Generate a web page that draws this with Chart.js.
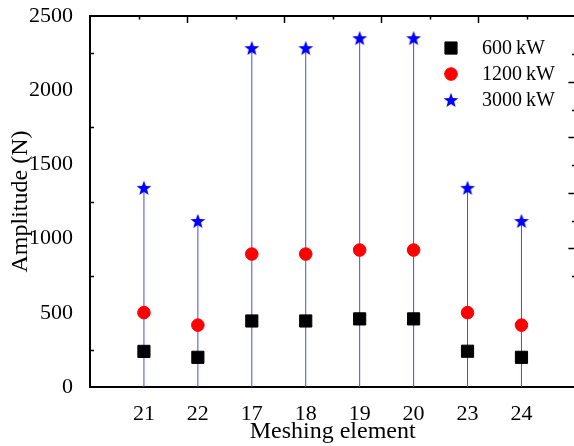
<!DOCTYPE html>
<html>
<head>
<meta charset="utf-8">
<script src="https://cdn.jsdelivr.net/npm/chart.js@4.4.1/dist/chart.umd.min.js"></script>
<style>
html,body{margin:0;padding:0;background:#fff;overflow:hidden;}
#wrap{width:590px;height:446px;}
</style>
</head>
<body>
<div id="wrap"><canvas id="c" width="585" height="446"></canvas></div>
<script>
// ---- data ----
const categories = ['21','22','17','18','19','20','23','24'];
const p600  = [240, 200, 445, 445, 459, 459, 241, 200];
const p1200 = [501, 417, 896, 896, 923, 923, 501, 417];
const p3000 = [1342, 1119, 2284, 2284, 2351, 2351, 1342, 1119];
const seriesLabels = ['600\u2009kW', '1200\u2009kW', '3000\u2009kW'];
const yTickStep = 500;
const yMax = 2500;

const FONT = "'Liberation Serif','Times New Roman',serif";

// filled five-point star marker
function makeStar(size, color){
  const c = document.createElement('canvas');
  c.width = size; c.height = size;
  const g = c.getContext('2d');
  const cx = size/2, cy = size/2 + 0.6, R = size/2 - 0.2, r = R*0.42;
  g.beginPath();
  for (let i = 0; i < 10; i++){
    const a = -Math.PI/2 + i*Math.PI/5;
    const rad = i % 2 ? r : R;
    g.lineTo(cx + rad*Math.cos(a), cy + rad*Math.sin(a));
  }
  g.closePath();
  g.fillStyle = color; g.fill();
  return c;
}
const star = makeStar(16, '#0000ff');

const pts = arr => arr.map((v,i)=>({x:i+1, y:v}));
const drops = p3000.flatMap((v,i)=>[{x:i+1,y:0},{x:i+1,y:v},{x:i+1,y:null}]);

// tick marks drawn inward on the frame
const frameTicks = {
  id:'frameTicks',
  afterDraw(chart){
    const ctx = chart.ctx, a = chart.chartArea, s = chart.scales;
    ctx.save();
    ctx.strokeStyle = '#000'; ctx.lineWidth = 1.5;
    const line = (x1,y1,x2,y2)=>{ctx.beginPath();ctx.moveTo(x1,y1);ctx.lineTo(x2,y2);ctx.stroke();};
    for (let v = yTickStep/2; v < yMax; v += yTickStep){
      const y = Math.round(s.y.getPixelForValue(v)) + 0.5;
      line(a.left, y, a.left + 4, y);
    }
    for (let v = 0.5; v < 5; v += 0.5){
      const x = Math.round(s.x2.getPixelForValue(v)) + 0.5;
      const major = Math.abs(v - Math.round(v)) < 1e-6;
      line(x, a.top, x, a.top + (major ? 7 : 3.5));
    }
    for (let v = 2; v <= 6; v += 0.5){
      const y = Math.round(s.y2.getPixelForValue(v)) + 0.5;
      const major = Math.abs(v - Math.round(v)) > 1e-6;
      line(a.right, y, a.right - (major ? 7 : 3.5), y);
    }
    ctx.restore();
  }
};

// legend inside the plot area
const boxLegend = {
  id:'boxLegend',
  afterDraw(chart){
    const ctx = chart.ctx, a = chart.chartArea;
    const mx = a.left + 361, tx = a.left + 392;
    const rows = [a.top + 32, a.top + 58, a.top + 84];
    ctx.save();
    [0,1,2].forEach(i=>{
      const ds = chart.data.datasets[i];
      if (ds.pointStyle === star){
        Chart.helpers.drawPoint(ctx, { pointStyle: star, radius: ds.pointRadius, rotation: 0, borderWidth: 0 }, mx, rows[i]);
      } else {
        ctx.fillStyle = ds.backgroundColor; ctx.strokeStyle = ds.borderColor;
        ctx.beginPath();
        if (ds.pointStyle === 'rect'){
          const h = Math.SQRT1_2*ds.pointRadius;
          ctx.rect(mx-h, rows[i]-h, 2*h, 2*h);
        } else {
          ctx.arc(mx, rows[i], ds.pointRadius, 0, Math.PI*2);
        }
        ctx.fill(); ctx.lineWidth = ds.borderWidth; ctx.stroke();
      }
      ctx.fillStyle = '#000';
      ctx.font = '20px ' + FONT;
      ctx.textBaseline = 'middle'; ctx.textAlign = 'left';
      ctx.fillText(seriesLabels[i], tx, rows[i] + 1);
    });
    ctx.restore();
  }
};

new Chart(document.getElementById('c'), {
  type: 'scatter',
  data: {
    datasets: [
      { label: seriesLabels[0], data: pts(p600), pointStyle: 'rect', pointRadius: 8.6,
        backgroundColor: '#000', borderColor: '#000', borderWidth: 1 },
      { label: seriesLabels[1], data: pts(p1200), pointStyle: 'circle', pointRadius: 6.3,
        backgroundColor: '#ff0000', borderColor: '#ff0000', borderWidth: 1 },
      { label: seriesLabels[2], data: pts(p3000), pointStyle: star, pointRadius: 8,
        backgroundColor: '#0000ff', borderColor: '#0000ff', borderWidth: 0 },
      { label: 'drop', type: 'line', data: drops, showLine: true, spanGaps: false,
        pointRadius: 0, borderWidth: 1, borderColor: '#4646ff', fill: false }
    ]
  },
  options: {
    responsive: false, animation: false, devicePixelRatio: 1,
    layout: { padding: { top: 0, right: 0, left: 0, bottom: 0 } },
    plugins: { legend: { display: false }, tooltip: { enabled: false } },
    scales: {
      x: {
        type: 'linear', position: 'bottom', min: 0, max: 9,
        grid: { display: false },
        border: { display: true, color: '#000', width: 2 },
        ticks: {
          stepSize: 1, color: '#000', font: { family: FONT, size: 22 }, padding: 6,
          maxRotation: 0, autoSkip: false,
          callback: v => categories[v-1] !== undefined ? categories[v-1] : ''
        },
        title: { display: true, text: 'Meshing element', color: '#000',
                 font: { family: FONT, size: 24 }, padding: { top: 0, bottom: 0 } },
        afterFit: s => { s.height = 59; }
      },
      y: {
        type: 'linear', position: 'left', min: 0, max: yMax,
        grid: { display: false },
        border: { display: true, color: '#000', width: 2 },
        ticks: { stepSize: yTickStep, color: '#000', font: { family: FONT, size: 22, lineHeight: 0.64 },
                 padding: 9, callback: v => String(v) },
        title: { display: true, text: 'Amplitude (N)', color: '#000',
                 font: { family: FONT, size: 24 }, padding: { top: 6, bottom: 0 } },
        afterFit: s => { s.width = 90; }
      },
      x2: {
        type: 'linear', position: 'top', min: 0, max: 5,
        grid: { display: false },
        border: { display: true, color: '#000', width: 2 },
        ticks: { display: false },
        afterFit: s => { s.height = 0; }
      },
      y2: {
        type: 'linear', position: 'right', min: 0, max: 6.685,
        grid: { display: false },
        border: { display: true, color: '#000', width: 2 },
        ticks: { display: false },
        afterFit: s => { s.width = 0; }
      }
    }
  },
  plugins: [frameTicks, boxLegend]
});
</script>
</body>
</html>
